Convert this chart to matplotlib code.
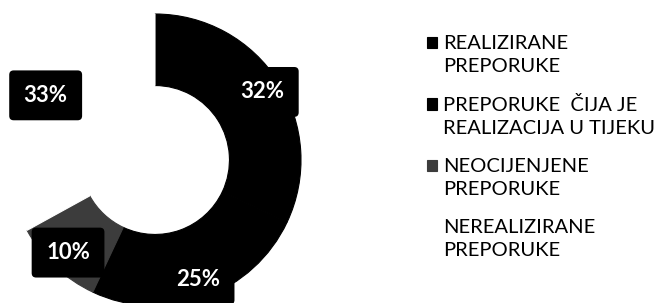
import matplotlib
matplotlib.use("Agg")
import matplotlib.pyplot as plt
from matplotlib.patches import Rectangle
from matplotlib.legend_handler import HandlerPatch

categories = ["REALIZIRANE\nPREPORUKE",
              "PREPORUKE  ČIJA JE\nREALIZACIJA U TIJEKU",
              "NEOCIJENJENE\nPREPORUKE",
              "NEREALIZIRANE\nPREPORUKE"]
values = [32, 25, 10, 33]
colors = ["#000000", "#000000", "#3c3c3c", "#ffffff"]

plt.rcParams['font.family'] = ['Lato', 'DejaVu Sans']

W, H = 655, 303
fig = plt.figure(figsize=(W / 100, H / 100), dpi=100)
cx, cy_top, R = 155, 160, 146
ax = fig.add_axes([(cx - R) / W, (H - cy_top - R) / H, 2 * R / W, 2 * R / H])

wedges, texts, autotexts = ax.pie(
    values, colors=colors, startangle=90, counterclock=False, radius=1,
    wedgeprops=dict(width=0.49, linewidth=0.8),
    autopct=lambda p: f"{p:.0f}%", pctdistance=0.87,
    textprops=dict(color="white", fontsize=16, fontweight="bold"))
for w, c in zip(wedges, colors):
    w.set_edgecolor(c)
ax.set_xlim(-1, 1)
ax.set_ylim(-1, 1)
ax.axis("off")
for t in autotexts:
    t.set_bbox(dict(boxstyle="round,pad=0.65,rounding_size=0.2", fc="black", ec="none"))


def make_patch(legend, orig_handle, xdescent, ydescent, width, height, fontsize):
    return Rectangle((-xdescent, -ydescent + 0.6 * fontsize), width, height)


leg = fig.legend(wedges, categories, loc="upper left",
                 bbox_to_anchor=(427 / W, 1 - 35 / H), frameon=False,
                 fontsize=14.5, handlelength=0.5, handleheight=0.5,
                 handletextpad=0.3, labelspacing=1.05, borderpad=0,
                 borderaxespad=0,
                 handler_map={type(wedges[0]): HandlerPatch(patch_func=make_patch)})
for t in leg.get_texts():
    t.set_linespacing(1.42)

fig.savefig("out.png", dpi=100)
